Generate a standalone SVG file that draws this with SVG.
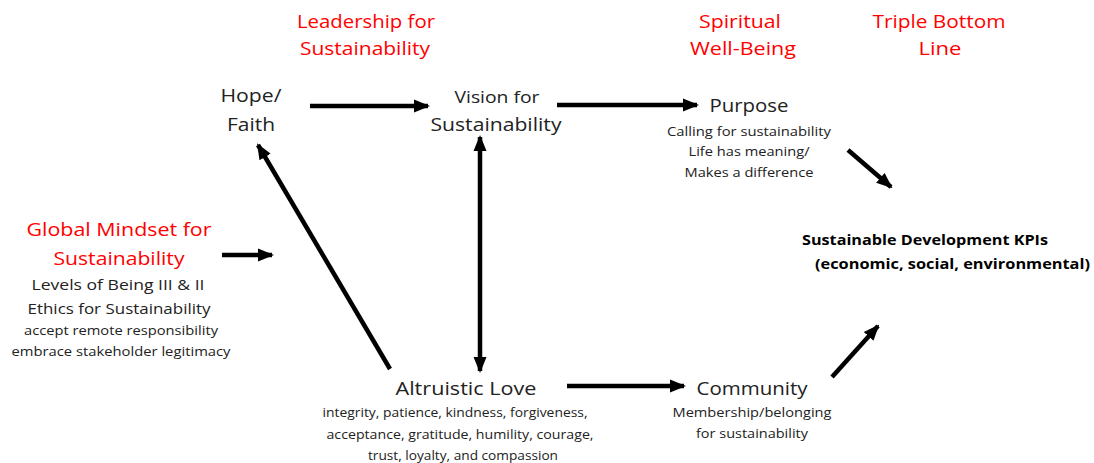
<svg xmlns="http://www.w3.org/2000/svg" width="1094" height="463" viewBox="0 0 1094 463">
<style>
text{font-family:"Open Sans","Liberation Sans",sans-serif;text-anchor:middle;fill:#222}
.red{fill:#ff0000;font-size:19px}
.big{font-size:19px}
.mid{font-size:15px}
.sm{font-size:13px}
.kpi{font-size:13.5px;font-weight:bold;fill:#000;text-anchor:start}
.c line{stroke:#000;stroke-width:4.5}
</style>
<defs>
<marker id="ah" markerUnits="userSpaceOnUse" markerWidth="16" markerHeight="16" viewBox="0 0 16 16" refX="14" refY="8" orient="auto-start-reverse">
<path d="M0,1.5 L16,8 L0,14.5 Z" fill="#000"/>
</marker>
</defs>
<rect width="1094" height="463" fill="#fff"/>
<g id="header-leadership"><text class="red" x="366" y="28" textLength="138" lengthAdjust="spacingAndGlyphs">Leadership for</text><text class="red" x="365" y="55" textLength="130" lengthAdjust="spacingAndGlyphs">Sustainability</text></g>
<g id="header-spiritual"><text class="red" x="740" y="28" textLength="82" lengthAdjust="spacingAndGlyphs">Spiritual</text><text class="red" x="743" y="55" textLength="106" lengthAdjust="spacingAndGlyphs">Well-Being</text></g>
<g id="header-tbl"><text class="red" x="939" y="28" textLength="133" lengthAdjust="spacingAndGlyphs">Triple Bottom</text><text class="red" x="940" y="55" textLength="43" lengthAdjust="spacingAndGlyphs">Line</text></g>
<g id="hope"><text class="big" x="251" y="102" textLength="61" lengthAdjust="spacingAndGlyphs">Hope/</text><text class="big" x="251" y="131" textLength="48" lengthAdjust="spacingAndGlyphs">Faith</text></g>
<g id="vision"><text x="497" y="103" style="font-size:17px" textLength="85" lengthAdjust="spacingAndGlyphs">Vision for</text><text class="big" x="496" y="131" textLength="131" lengthAdjust="spacingAndGlyphs">Sustainability</text></g>
<g id="purpose"><text class="big" x="749" y="112" textLength="79" lengthAdjust="spacingAndGlyphs">Purpose</text><text class="sm" x="749" y="136" textLength="164" lengthAdjust="spacingAndGlyphs">Calling for sustainability</text><text class="sm" x="749" y="156" textLength="121" lengthAdjust="spacingAndGlyphs">Life has meaning/</text><text class="sm" x="749" y="177" textLength="129" lengthAdjust="spacingAndGlyphs">Makes a difference</text></g>
<g id="global"><text class="red" x="119" y="236" textLength="185" lengthAdjust="spacingAndGlyphs">Global Mindset for</text><text class="red" x="119" y="265" textLength="131" lengthAdjust="spacingAndGlyphs">Sustainability</text><text class="mid" x="118" y="290" textLength="173" lengthAdjust="spacingAndGlyphs">Levels of Being  III &amp; II</text><text class="mid" x="119" y="314" textLength="183" lengthAdjust="spacingAndGlyphs">Ethics for Sustainability</text><text class="sm" x="121" y="335" textLength="194" lengthAdjust="spacingAndGlyphs">accept remote responsibility</text><text class="sm" x="121" y="356" textLength="219" lengthAdjust="spacingAndGlyphs">embrace stakeholder legitimacy</text></g>
<g id="kpis"><text class="kpi" x="802" y="245" textLength="246" lengthAdjust="spacingAndGlyphs">Sustainable Development KPIs</text><text class="kpi" x="815" y="269" textLength="275" lengthAdjust="spacingAndGlyphs">(economic, social, environmental)</text></g>
<g id="altruistic"><text class="big" x="466" y="395" textLength="141" lengthAdjust="spacingAndGlyphs">Altruistic Love</text><text class="sm" x="455" y="417" textLength="265" lengthAdjust="spacingAndGlyphs">integrity, patience, kindness, forgiveness,</text><text class="sm" x="460" y="439" textLength="267" lengthAdjust="spacingAndGlyphs">acceptance, gratitude, humility, courage,</text><text class="sm" x="463" y="460" textLength="190" lengthAdjust="spacingAndGlyphs">trust, loyalty, and compassion</text></g>
<g id="community"><text class="big" x="752" y="395" textLength="111" lengthAdjust="spacingAndGlyphs">Community</text><text class="sm" x="752" y="417" textLength="159" lengthAdjust="spacingAndGlyphs">Membership/belonging</text><text class="sm" x="752" y="438" textLength="112" lengthAdjust="spacingAndGlyphs">for sustainability</text></g>
<g id="connectors" class="c">
<line x1="310" y1="106" x2="428" y2="106" marker-end="url(#ah)"/>
<line x1="557" y1="105" x2="697" y2="105" marker-end="url(#ah)"/>
<line x1="848" y1="150" x2="891" y2="187" marker-end="url(#ah)"/>
<line x1="222" y1="255" x2="272" y2="255" marker-end="url(#ah)"/>
<line x1="480" y1="137" x2="480" y2="371" marker-start="url(#ah)" marker-end="url(#ah)"/>
<line x1="390" y1="369" x2="258" y2="145" marker-end="url(#ah)"/>
<line x1="567" y1="386" x2="684" y2="386" marker-end="url(#ah)"/>
<line x1="832" y1="377" x2="878" y2="326" marker-end="url(#ah)"/>
</g>
</svg>
